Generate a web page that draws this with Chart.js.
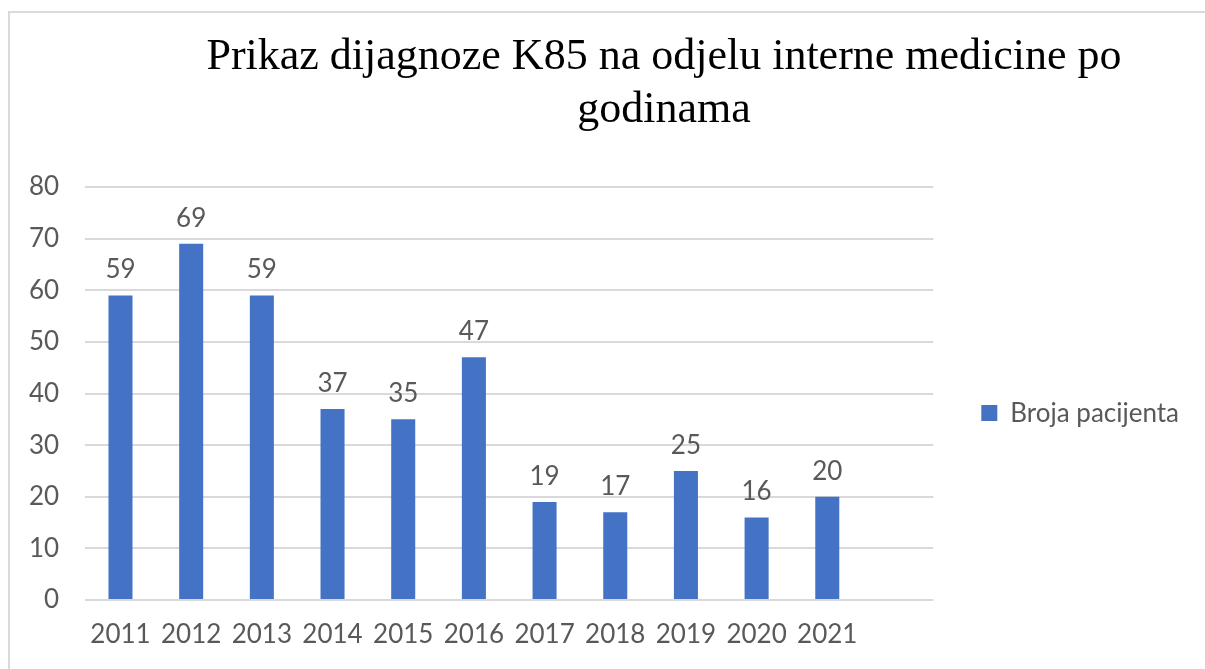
<!DOCTYPE html>
<html>
<head>
<meta charset="utf-8">
<script src="https://cdn.jsdelivr.net/npm/chart.js@4.4.0/dist/chart.umd.min.js"></script>
<style>
html,body{margin:0;padding:0;background:#fff;overflow:hidden;}
#wrap{position:relative;width:1205px;height:669px;}
</style>
</head>
<body>
<div id="wrap"><canvas id="c" width="1205" height="669"></canvas></div>
<script>
const categories = ['2011','2012','2013','2014','2015','2016','2017','2018','2019','2020','2021',''];
const patients = [59, 69, 59, 37, 35, 47, 19, 17, 25, 16, 20, null];
const yTicks = [0, 10, 20, 30, 40, 50, 60, 70, 80];
const seriesName = 'Broja pacijenta';
const titleLines = ['Prikaz dijagnoze K85 na odjelu interne medicine po', 'godinama'];

const GRAY = '#595959';
const FONT = 'Lato, "Noto Sans", sans-serif';

const frameTitle = {
  id: 'frameTitle',
  beforeDraw(chart) {
    const ctx = chart.ctx;
    ctx.save();
    ctx.fillStyle = '#fff';
    ctx.fillRect(0, 0, chart.width, chart.height);
    ctx.strokeStyle = '#d9d9d9';
    ctx.lineWidth = 2;
    ctx.strokeRect(9, 12, 1400, 1000);
    ctx.restore();
  },
  afterDraw(chart) {
    const ctx = chart.ctx;
    ctx.save();
    ctx.fillStyle = '#000';
    ctx.font = '44px "Liberation Serif", "Times New Roman", serif';
    ctx.textAlign = 'center';
    ctx.textBaseline = 'alphabetic';
    ctx.fillText(titleLines[0], 664, 69);
    ctx.fillText(titleLines[1], 664, 122);
    ctx.restore();
  }
};

const valueLabels = {
  id: 'valueLabels',
  afterDatasetsDraw(chart) {
    const ctx = chart.ctx;
    const meta = chart.getDatasetMeta(0);
    ctx.save();
    ctx.fillStyle = GRAY;
    ctx.font = '26px ' + FONT;
    ctx.textAlign = 'center';
    ctx.textBaseline = 'alphabetic';
    meta.data.forEach((bar, i) => {
      const v = chart.data.datasets[0].data[i];
      if (v === null || v === undefined) return;
      ctx.fillText(String(v), bar.x, bar.y - 17);
    });
    ctx.restore();
  }
};

new Chart(document.getElementById('c'), {
  type: 'bar',
  data: {
    labels: categories,
    datasets: [{
      label: seriesName,
      data: patients,
      backgroundColor: '#4472C4',
      borderWidth: 0,
      barPercentage: 0.34,
      categoryPercentage: 1.0
    }]
  },
  options: {
    responsive: false,
    animation: false,
    devicePixelRatio: 1,
    layout: { padding: { left: 3, right: 16, top: 187, bottom: 0 } },
    plugins: {
      legend: {
        position: 'right',
        align: 'center',
        fullSize: false,
        title: { display: true, text: '', padding: { top: 38, bottom: 0 }, font: { size: 1 } },
        labels: {
          boxWidth: 16,
          boxHeight: 16,
          padding: 48,
          color: GRAY,
          font: { family: FONT, size: 26 }
        }
      },
      title: { display: false },
      tooltip: { enabled: false }
    },
    scales: {
      x: {
        grid: { display: false, drawTicks: false },
        border: { display: false },
        ticks: { color: GRAY, font: { family: FONT, size: 26, lineHeight: 0.73 }, padding: 25, maxRotation: 0, autoSkip: false }
      },
      y: {
        min: 0,
        max: 80,
        afterBuildTicks(axis) { axis.ticks = yTicks.map(v => ({ value: v })); },
        grid: { color: '#d9d9d9', lineWidth: 2, drawTicks: false },
        border: { display: false },
        ticks: { color: GRAY, font: { family: FONT, size: 26 }, padding: 26 }
      }
    }
  },
  plugins: [frameTitle, valueLabels]
});
</script>
</body>
</html>
